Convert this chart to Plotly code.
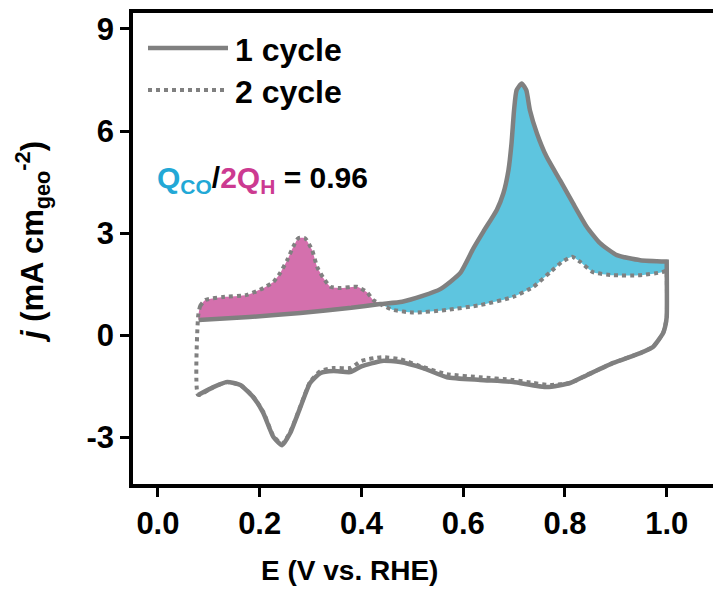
import plotly.graph_objects as go

# ---------------- data ----------------
# cycle 1 (solid) anodic sweep
E1_fwd = [0.080, 0.180, 0.280, 0.380, 0.437, 0.480, 0.520, 0.555, 0.594, 0.620, 0.640, 0.666,
          0.679, 0.689, 0.695, 0.700, 0.705, 0.715, 0.724, 0.731, 0.745, 0.764, 0.790, 0.816,
          0.843, 0.869, 0.902, 0.948, 1.000]
j1_fwd = [0.44, 0.53, 0.65, 0.80, 0.91, 0.98, 1.15, 1.35, 1.82, 2.55, 3.05, 3.68,
          4.17, 4.85, 5.64, 6.62, 7.20, 7.40, 7.20, 6.62, 5.93, 5.24, 4.56, 3.87,
          3.18, 2.70, 2.35, 2.20, 2.16]
# cycle 1 cathodic sweep
E1_rev = [1.000, 1.000, 0.997, 0.993, 0.973, 0.948, 0.895, 0.843, 0.810, 0.765, 0.698, 0.633,
          0.568, 0.521, 0.476, 0.440, 0.400, 0.378, 0.345, 0.319, 0.299, 0.280, 0.260, 0.244,
          0.227, 0.207, 0.187, 0.162, 0.136, 0.109, 0.079]
j1_rev = [2.16, 0.53, 0.25, 0.06, -0.35, -0.53, -0.82, -1.18, -1.41, -1.53, -1.38, -1.32,
          -1.24, -0.97, -0.79, -0.76, -0.92, -1.09, -1.06, -1.12, -1.41, -2.12, -2.88, -3.24,
          -3.00, -2.29, -1.82, -1.47, -1.38, -1.53, -1.76]

# cycle 2 (dotted) anodic sweep
E2_fwd = [0.079, 0.083, 0.093, 0.128, 0.175, 0.207, 0.227, 0.240, 0.254, 0.266, 0.276, 0.289,
          0.303, 0.313, 0.325, 0.339, 0.358, 0.391, 0.411, 0.423, 0.441, 0.462, 0.502, 0.568,
          0.633, 0.698, 0.738, 0.771, 0.794, 0.814, 0.830, 0.855, 0.895, 0.948, 0.991, 1.000]
j2_fwd = [0.55, 0.85, 1.03, 1.12, 1.18, 1.38, 1.56, 1.82, 2.20, 2.60, 2.85, 2.85,
          2.50, 2.00, 1.68, 1.42, 1.38, 1.42, 1.26, 1.03, 0.88, 0.74, 0.66, 0.74,
          0.88, 1.12, 1.42, 1.85, 2.15, 2.30, 2.15, 1.85, 1.76, 1.76, 1.85, 1.90]
# cycle 2 cathodic sweep
E2_rev = [1.000, 1.000, 0.993, 0.973, 0.948, 0.895, 0.843, 0.810, 0.771, 0.738, 0.698, 0.633,
          0.568, 0.521, 0.476, 0.440, 0.400, 0.378, 0.345, 0.319, 0.299, 0.280, 0.260, 0.244,
          0.227, 0.207, 0.187, 0.162, 0.136, 0.109, 0.079]
j2_rev = [1.90, 0.50, 0.06, -0.35, -0.53, -0.82, -1.18, -1.41, -1.47, -1.41, -1.32, -1.24,
          -1.15, -0.94, -0.71, -0.65, -0.76, -0.97, -0.97, -1.06, -1.38, -2.10, -2.85, -3.20,
          -2.97, -2.26, -1.80, -1.47, -1.38, -1.53, -1.76]

E_cross = 0.437  # where the two anodic sweeps cross

x_tickvals = [0.0, 0.2, 0.4, 0.6, 0.8, 1.0]
x_ticktext = ["0.0", "0.2", "0.4", "0.6", "0.8", "1.0"]
y_tickvals = [-3, 0, 3, 6, 9]
y_ticktext = ["-3", "0", "3", "6", "9"]

legend_labels = ["1 cycle", "2 cycle"]

# ---------------- styling ----------------
W, H = 713, 589
ML, MR, MT, MB = 133, 0, 13, 105
PW, PH = W - ML - MR, H - MT - MB
GRAY = "#808080"
PINK = "#D470AD"
CYAN = "#5EC5DF"
FONT = "Liberation Sans, Arial, sans-serif"
SM = 0.5


def px(xp):
    return (xp - ML) / PW


def py(yp):
    return (H - MB - yp) / PH


fig = go.Figure()

# hydrogen-desorption area (pink): cycle 2 above cycle 1
pink_x = [e for e in E2_fwd if e < E_cross] + [e for e in E1_fwd if e <= E_cross][::-1]
pink_y = [j for e, j in zip(E2_fwd, j2_fwd) if e < E_cross] + \
         [j for e, j in zip(E1_fwd, j1_fwd) if e <= E_cross][::-1]
fig.add_trace(go.Scatter(x=pink_x, y=pink_y, fill="toself", fillcolor=PINK,
                         mode="lines", line=dict(width=0, color=PINK, shape="spline", smoothing=SM),
                         showlegend=False, hoverinfo="skip"))

# CO-stripping area (cyan): cycle 1 above cycle 2
cyan_x = [e for e in E1_fwd if e >= E_cross] + [e for e in E2_fwd if e > E_cross][::-1]
cyan_y = [j for e, j in zip(E1_fwd, j1_fwd) if e >= E_cross] + \
         [j for e, j in zip(E2_fwd, j2_fwd) if e > E_cross][::-1]
fig.add_trace(go.Scatter(x=cyan_x, y=cyan_y, fill="toself", fillcolor=CYAN,
                         mode="lines", line=dict(width=0, color=CYAN, shape="spline", smoothing=SM),
                         showlegend=False, hoverinfo="skip"))

# cycle 1
fig.add_trace(go.Scatter(x=E1_fwd + E1_rev, y=j1_fwd + j1_rev, mode="lines",
                         line=dict(color=GRAY, width=4.5, shape="spline", smoothing=SM),
                         name=legend_labels[0], showlegend=False))
# cycle 2
fig.add_trace(go.Scatter(x=E2_fwd + E2_rev + E2_fwd[:1], y=j2_fwd + j2_rev + j2_fwd[:1],
                         mode="lines",
                         line=dict(color=GRAY, width=4, dash="dot", shape="spline", smoothing=SM),
                         name=legend_labels[1], showlegend=False))

# manual legend
fig.add_shape(type="line", xref="paper", yref="paper", x0=px(148), x1=px(228),
              y0=py(48), y1=py(48), line=dict(color=GRAY, width=4.5))
fig.add_shape(type="line", xref="paper", yref="paper", x0=px(148), x1=px(228),
              y0=py(90), y1=py(90), line=dict(color=GRAY, width=4, dash="dot"))
for lab, yp in zip(legend_labels, [50, 92]):
    fig.add_annotation(xref="paper", yref="paper", x=px(233), y=py(yp), text=lab,
                       showarrow=False, xanchor="left", yanchor="middle",
                       font=dict(family=FONT, size=32, color="black", weight="bold"))

# Q ratio text
fig.add_annotation(xref="paper", yref="paper", x=px(155), y=py(179),
                   text="<span style='color:#22A8D6'>Q<sub>CO</sub></span>/"
                        "<span style='color:#CC3A91'>2Q<sub>H</sub></span> = 0.96",
                   showarrow=False, xanchor="left", yanchor="middle",
                   font=dict(family=FONT, size=30, color="black", weight="bold"))

# axis titles
fig.add_annotation(xref="paper", yref="paper", x=px(349), y=py(570),
                   text="E (V vs. RHE)", showarrow=False, xanchor="center", yanchor="middle",
                   font=dict(family=FONT, size=28, color="black", weight="bold"))
fig.add_annotation(xref="paper", yref="paper", x=px(32), y=py(242), textangle=-90,
                   text="<i>j</i> (mA cm<sub>geo</sub><sup>-2</sup>)", showarrow=False,
                   xanchor="center", yanchor="middle",
                   font=dict(family=FONT, size=31, color="black", weight="bold"))

fig.update_layout(
    width=W, height=H,
    margin=dict(l=ML, r=MR, t=MT, b=MB, pad=0),
    paper_bgcolor="white", plot_bgcolor="white",
    showlegend=False,
    xaxis=dict(range=[-0.049, 1.091], tickvals=x_tickvals, ticktext=x_ticktext,
               showgrid=False, zeroline=False, showline=True, linecolor="black",
               linewidth=3.5, mirror=True, ticks="outside", ticklen=9, tickwidth=3,
               tickcolor="black",
               tickfont=dict(family=FONT, size=31, color="black", weight="bold")),
    yaxis=dict(range=[-4.38, 9.47], tickvals=y_tickvals, ticktext=y_ticktext,
               showgrid=False, zeroline=False, showline=True, linecolor="black",
               linewidth=3.5, mirror=False, ticks="outside", ticklen=9, tickwidth=3,
               tickcolor="black",
               tickfont=dict(family=FONT, size=31, color="black", weight="bold")),
)

fig.write_html("out.html", config={"displayModeBar": False},
               post_script="document.body.style.margin='0px';"
                           "document.documentElement.style.margin='0px';"
                           "document.body.style.overflow='hidden';")
